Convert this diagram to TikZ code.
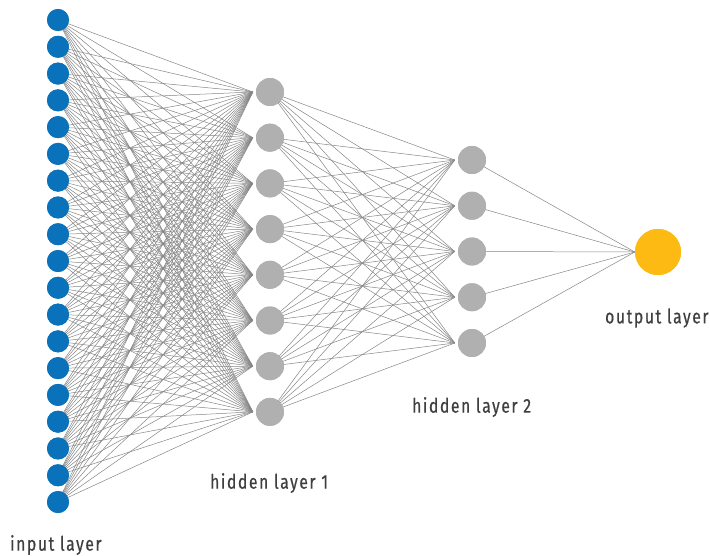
\documentclass[tikz,border=0pt]{standalone}
\usepackage{fontspec}
\setmainfont{Fira Sans}
\definecolor{inblue}{HTML}{0A72BA}
\definecolor{hidgray}{HTML}{B0B0B0}
\definecolor{outgold}{HTML}{FDBA12}
\definecolor{wiregray}{HTML}{858585}
\definecolor{labelgray}{HTML}{3F3F3F}
\begin{document}
\begin{tikzpicture}[x=1bp,y=-1bp,
  neuron/.style={circle,inner sep=0pt,minimum size=#1},
  inunit/.style={neuron=22bp,fill=inblue},
  hidunit/.style={neuron=28bp,fill=hidgray},
  outunit/.style={neuron=46bp,fill=outgold},
  wire/.style={draw=wiregray,line width=0.5bp},
  layerlabel/.style={text=labelgray,font=\fontsize{20}{22}\selectfont\addfontfeatures{LetterSpace=10,FakeBold=0.6},inner sep=0pt,anchor=west,xscale=0.79,transform shape}]
\useasboundingbox (0,0) rectangle (710,556);
% input layer: 19 units
\foreach \k in {1,...,19}
  \node[inunit] (i\k) at (58,{20+(\k-1)*26.78}) {};
% first hidden layer: 8 units
\foreach \k in {1,...,8}
  \node[hidunit] (h\k) at (270,{92+(\k-1)*45.7}) {};
% second hidden layer: 5 units
\foreach \k in {1,...,5}
  \node[hidunit] (g\k) at (472,{160+(\k-1)*45.75}) {};
% output unit
\node[outunit] (o) at (658,252) {};
% connections
\foreach \a in {1,...,19}
  \foreach \b in {1,...,8}
    \draw[wire] (i\a.center) -- ([xshift=-3bp]h\b.west);
\foreach \a in {1,...,8}
  \foreach \b in {1,...,5}
    \draw[wire] (h\a.center) -- ([xshift=-3bp]g\b.west);
\foreach \a in {1,...,5}
  \draw[wire] (g\a.center) -- (o.west);
% redraw units on top of the wires
\foreach \k in {1,...,19}
  \fill[inblue] (i\k) circle (11bp);
\foreach \k in {1,...,8}
  \fill[hidgray] (h\k) circle (14bp);
\foreach \k in {1,...,5}
  \fill[hidgray] (g\k) circle (14bp);
\fill[outgold] (o) circle (23bp);
% labels
\node[layerlabel] (li) at (10,545) {input layer};
\node[layerlabel] (lh1) at (210,483) {hidden layer 1};
\node[layerlabel] (lh2) at (412,407) {hidden layer 2};
\node[layerlabel] (lo) at (605,318) {output layer};
\end{tikzpicture}
\end{document}
